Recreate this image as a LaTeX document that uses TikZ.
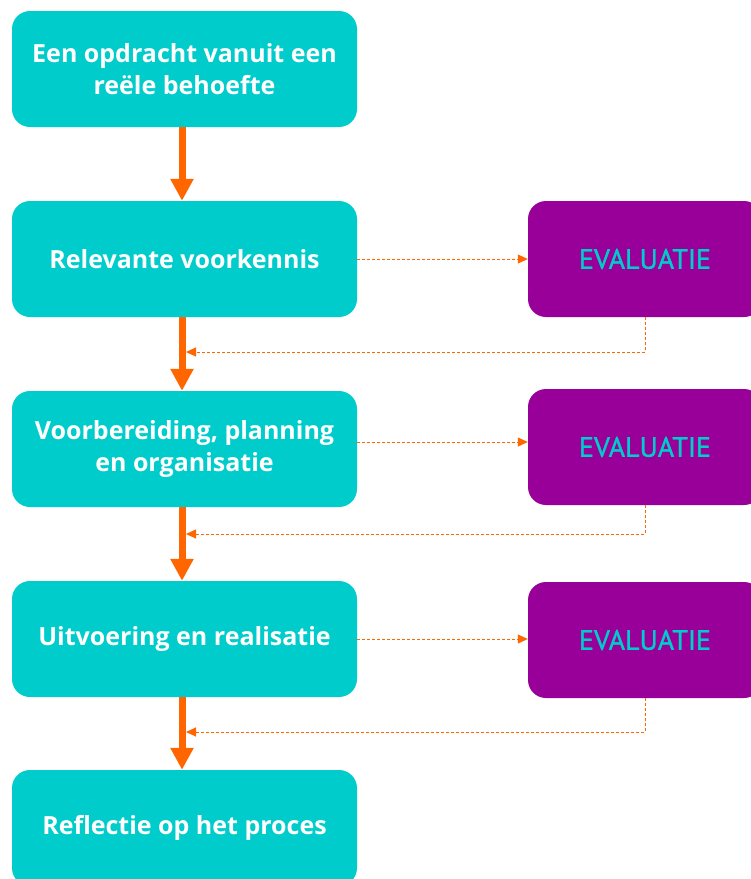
\documentclass[tikz,border=0pt]{standalone}
\usepackage{fontspec}
\setmainfont{PT Sans}
\newfontfamily\boxfont{Open Sans}
\usetikzlibrary{arrows.meta}
\definecolor{tq}{HTML}{00CCCC}
\definecolor{og}{HTML}{FF6600}
\definecolor{pp}{HTML}{990099}
\begin{document}
\begin{tikzpicture}[x=1pt,y=-1pt,
  mainbox/.style={fill=tq, rounded corners=18pt, minimum width=345pt, minimum height=116pt,
    inner sep=0pt, text=white, align=center, font=\boxfont\fontsize{25}{32}\selectfont\bfseries},
  evalbox/.style={fill=pp, rounded corners=18pt, minimum width=234pt, minimum height=116pt,
    inner sep=0pt, text=tq, font=\fontsize{28}{32}\selectfont\addfontfeature{FakeBold=1.2}},
  thick arrow/.style={draw=og, line width=7pt, -{Triangle[width=22pt,length=22pt]}},
  dash arrow/.style={draw=og, line width=1pt, dash pattern=on 3pt off 2pt, -{Triangle[width=9pt,length=10pt]}}]
\useasboundingbox (0,0) rectangle (751,879);
\node[mainbox] (b1) at (184.5,69) {Een opdracht vanuit een\\reële behoefte};
\node[mainbox] (b2) at (184.5,259) {Relevante voorkennis};
\node[mainbox] (b3) at (184.5,449) {Voorbereiding, planning\\en organisatie};
\node[mainbox] (b4) at (184.5,639) {Uitvoering en realisatie};
\node[mainbox] (b5) at (184.5,828) {Reflectie op het proces};
\node[evalbox] (e1) at (645,259) {EVALUATIE};
\node[evalbox] (e2) at (645,447) {EVALUATIE};
\node[evalbox] (e3) at (645,640) {EVALUATIE};
\coordinate (r1) at (645,352);
\coordinate (r2) at (645,534);
\coordinate (r3) at (645,732);
\foreach \a/\b in {b1/b2,b2/b3,b3/b4,b4/b5}
  \draw[thick arrow] (\a.south -| 182,0) -- (\b.north -| 182,0);
\draw[dash arrow] (b2.east) -- (b2.east -| e1.west);
\draw[dash arrow] (b3.east |- 0,442) -- (e2.west |- 0,442);
\draw[dash arrow] (b4.east) -- (b4.east -| e3.west);
\draw[dash arrow] (e1.south) -- (r1) -- (186,352);
\draw[dash arrow] (e2.south) -- (r2) -- (186,534);
\draw[dash arrow] (e3.south) -- (r3) -- (186,732);
\end{tikzpicture}
\end{document}
